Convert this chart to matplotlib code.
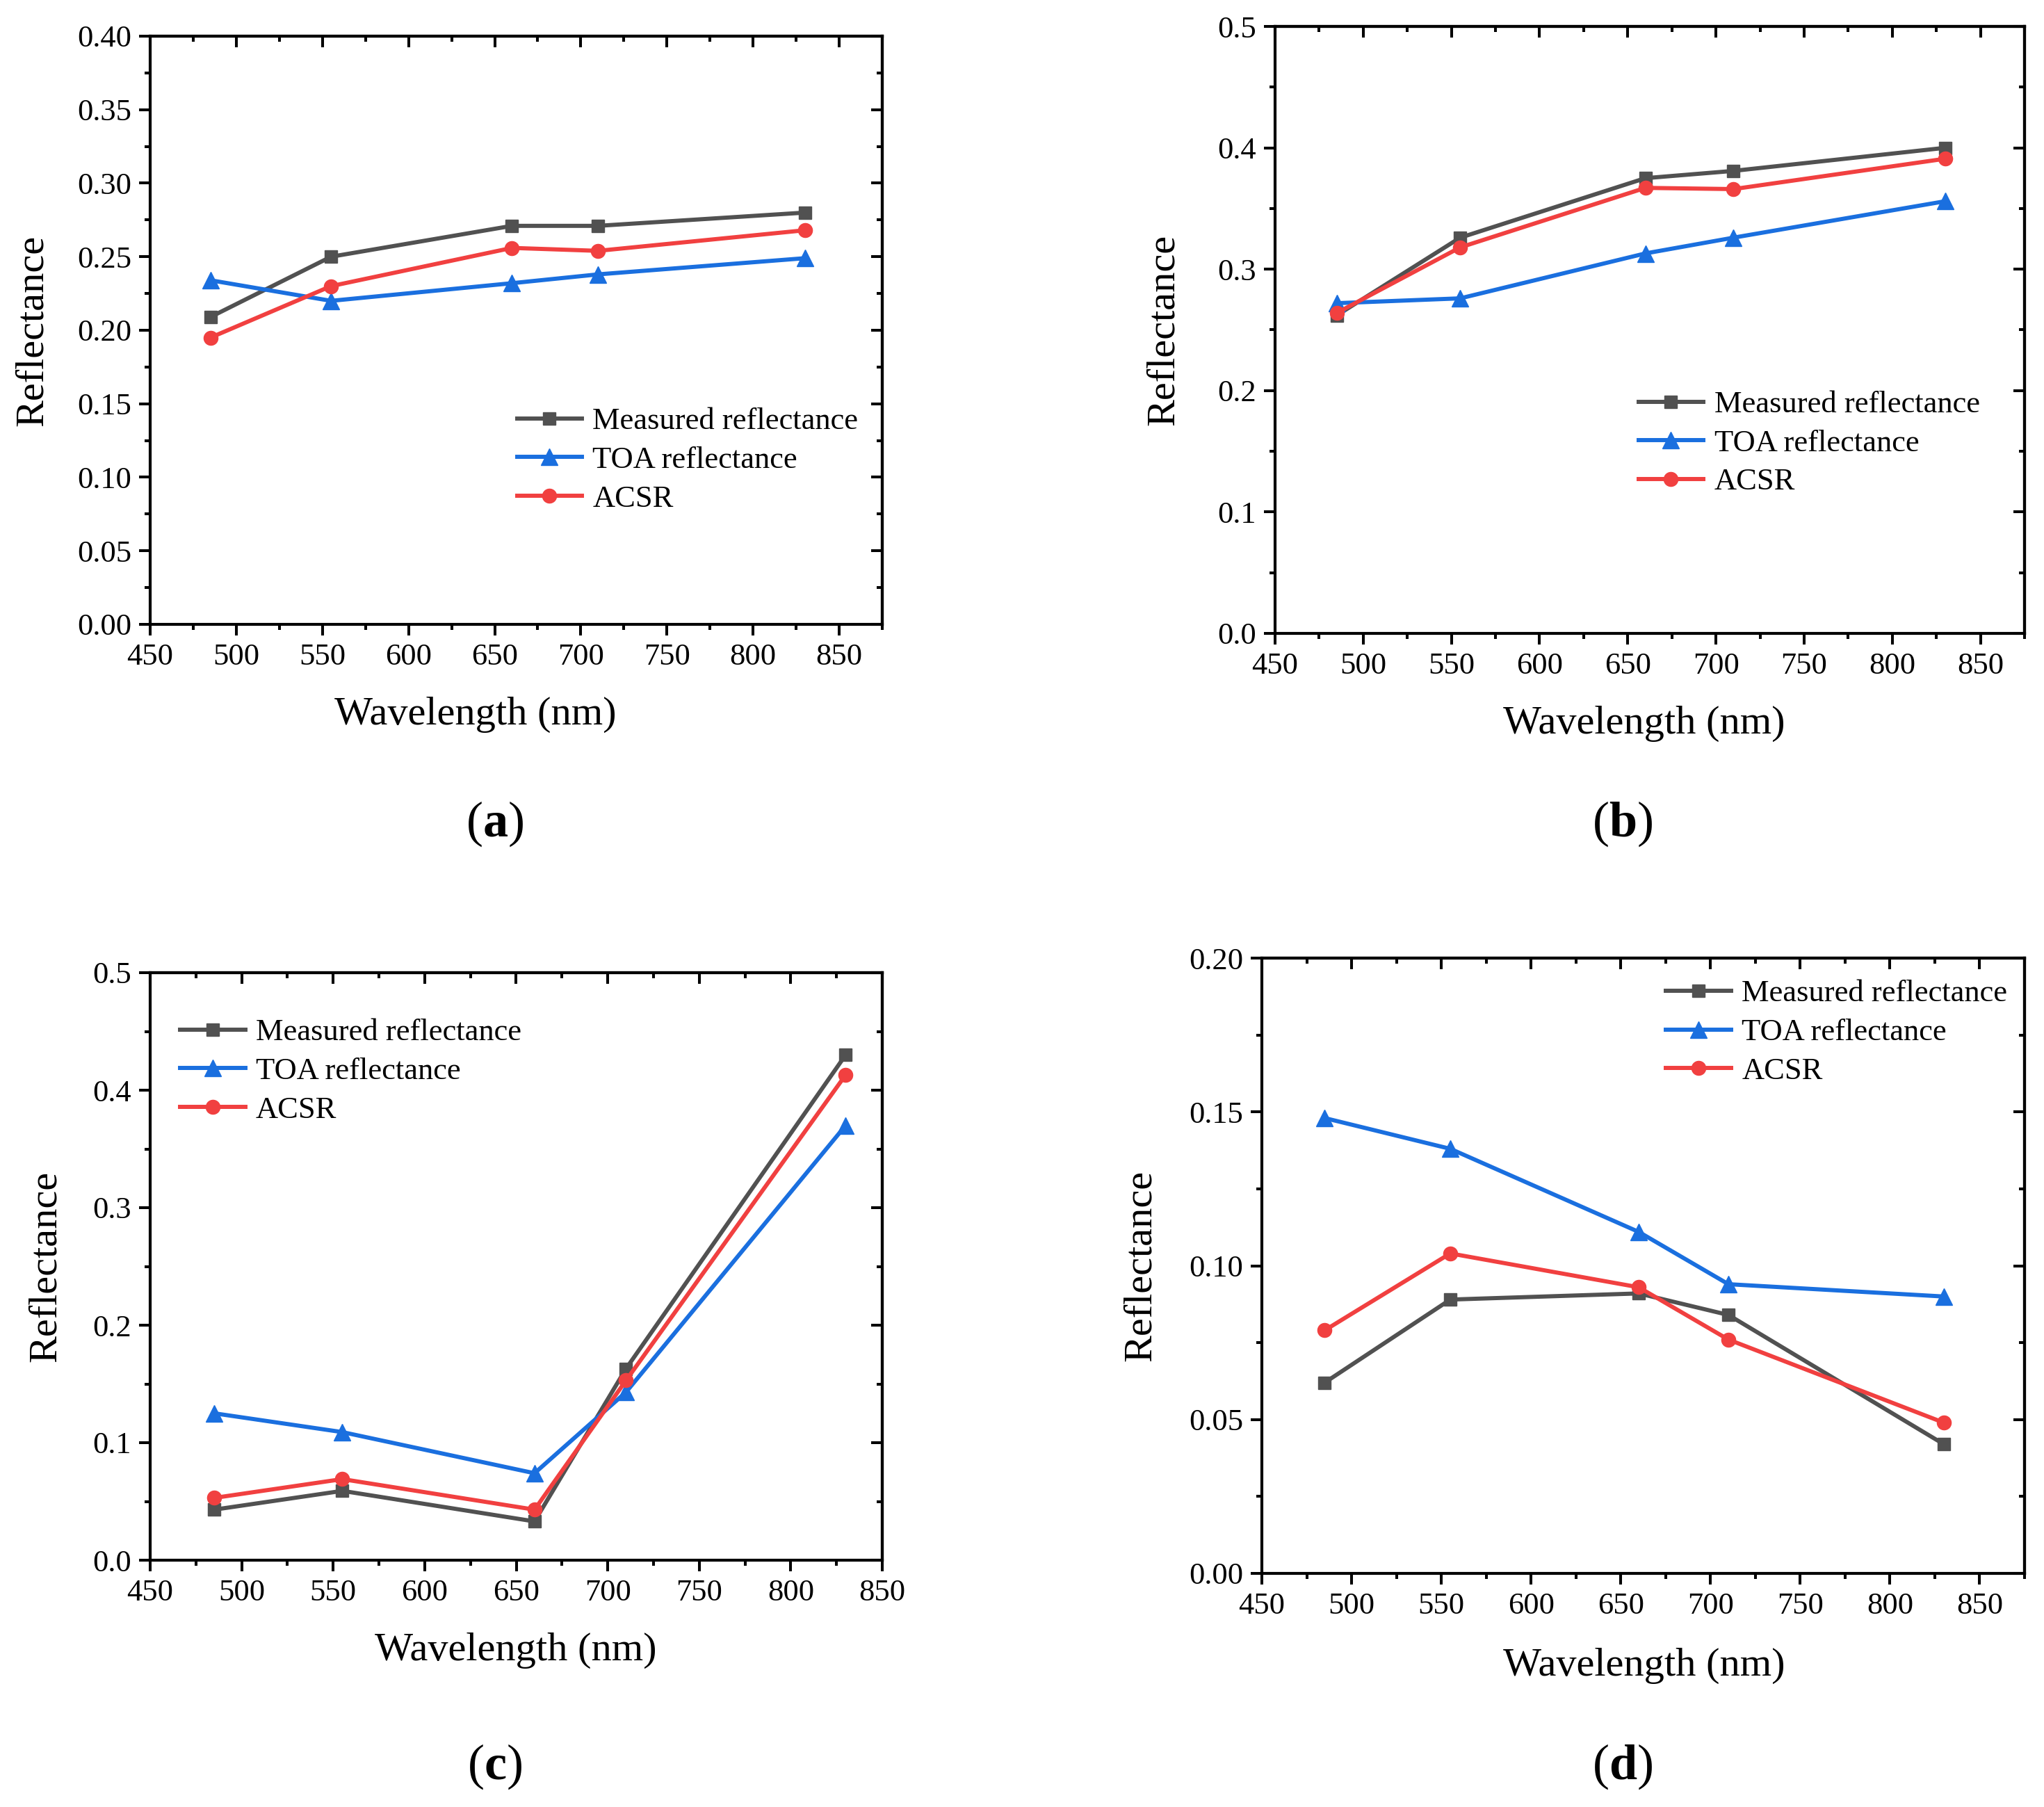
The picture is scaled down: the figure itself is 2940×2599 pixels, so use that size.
import matplotlib
matplotlib.use("Agg")
import matplotlib.pyplot as plt
from matplotlib.ticker import MultipleLocator, NullFormatter, FormatStrFormatter

plt.rcParams['font.family'] = ['Liberation Serif', 'DejaVu Serif']
plt.rcParams['mathtext.fontset'] = 'custom'
plt.rcParams['mathtext.rm'] = 'Liberation Serif'
plt.rcParams['mathtext.bf'] = 'Liberation Serif:bold'

# Longueurs d'onde des bandes (nm)
wavelength = [485, 555, 660, 710, 830]

# (a)
measured_a = [0.209, 0.250, 0.271, 0.271, 0.280]
toa_a = [0.234, 0.220, 0.232, 0.238, 0.249]
acsr_a = [0.195, 0.230, 0.256, 0.254, 0.268]

# (b)
measured_b = [0.262, 0.326, 0.375, 0.381, 0.400]
toa_b = [0.272, 0.276, 0.313, 0.326, 0.356]
acsr_b = [0.264, 0.318, 0.367, 0.366, 0.391]

# (c)
measured_c = [0.043, 0.059, 0.033, 0.163, 0.430]
toa_c = [0.125, 0.109, 0.074, 0.143, 0.370]
acsr_c = [0.053, 0.069, 0.043, 0.153, 0.413]

# (d)
measured_d = [0.062, 0.089, 0.091, 0.084, 0.042]
toa_d = [0.148, 0.138, 0.111, 0.094, 0.090]
acsr_d = [0.079, 0.104, 0.093, 0.076, 0.049]

series_labels = ['Measured reflectance', 'TOA reflectance', 'ACSR']
panel_names = ['a', 'b', 'c', 'd']

GRAY = '#515151'
BLUE = '#1A6FDF'
RED = '#F14040'

W, H = 2940, 2599
fig = plt.figure(figsize=(W / 100, H / 100), dpi=100)

# positions en pixels : gauche, droite, haut, bas
boxes = [(216, 1269, 52, 898), (1834, 2912, 38, 911),
         (216, 1269, 1399, 2244), (1815, 2912, 1378, 2263)]
ylims = [(0, 0.40), (0, 0.5), (0, 0.5), (0, 0.20)]
ysteps = [0.05, 0.1, 0.1, 0.05]
yfmts = ['%.2f', '%.1f', '%.1f', '%.2f']
xmax = [875, 875, 850, 875]
legend_anchor = [(0.501, 0.279), (0.485, 0.313), (0.041, 0.832), (0.530, 0.879)]
ylabel_x = [47, 1674, 66, 1641]
xlabel_xy = [(684, 1028), (2365, 1041), (742, 2374), (2365, 2396)]
letter_xy = [(712, 1185), (2334, 1185), (712, 2541), (2334, 2541)]

data = [(measured_a, toa_a, acsr_a), (measured_b, toa_b, acsr_b),
        (measured_c, toa_c, acsr_c), (measured_d, toa_d, acsr_d)]

TICK_W = 2.9
MAJ_L, MIN_L = 11.5, 6

for i in range(4):
    l, r, t, b = boxes[i]
    ax = fig.add_axes([l / W, 1 - b / H, (r - l) / W, (b - t) / H])
    meas, toa, acsr = data[i]
    ax.plot(wavelength, meas, 's-', color=GRAY, lw=4.3, ms=13.5, label=series_labels[0])
    ax.plot(wavelength, toa, '^-', color=BLUE, lw=4.3, ms=17, label=series_labels[1])
    ax.plot(wavelength, acsr, 'o-', color=RED, lw=4.3, ms=14.5, label=series_labels[2])

    ax.set_xlim(450, xmax[i])
    ax.set_ylim(*ylims[i])
    ax.xaxis.set_major_locator(MultipleLocator(50))
    ax.xaxis.set_minor_locator(MultipleLocator(25))
    ax.yaxis.set_major_locator(MultipleLocator(ysteps[i]))
    ax.yaxis.set_minor_locator(MultipleLocator(ysteps[i] / 2))
    ax.yaxis.set_major_formatter(FormatStrFormatter(yfmts[i]))
    ax.tick_params(which='major', direction='out', length=MAJ_L, width=TICK_W,
                   labelsize=32, pad=8)
    ax.tick_params(which='minor', direction='out', length=MIN_L, width=TICK_W)
    for sp in ax.spines.values():
        sp.set_linewidth(3.0)

    # graduations miroir vers l'intérieur (haut et droite)
    top = ax.secondary_xaxis('top')
    top.xaxis.set_major_locator(MultipleLocator(50))
    top.xaxis.set_minor_locator(MultipleLocator(25))
    top.xaxis.set_major_formatter(NullFormatter())
    top.tick_params(which='major', direction='in', length=MAJ_L, width=TICK_W)
    top.tick_params(which='minor', direction='in', length=MIN_L, width=TICK_W)
    top.spines['top'].set_linewidth(3.0)
    right = ax.secondary_yaxis('right')
    right.yaxis.set_major_locator(MultipleLocator(ysteps[i]))
    right.yaxis.set_minor_locator(MultipleLocator(ysteps[i] / 2))
    right.yaxis.set_major_formatter(NullFormatter())
    right.tick_params(which='major', direction='in', length=MAJ_L, width=TICK_W)
    right.tick_params(which='minor', direction='in', length=MIN_L, width=TICK_W)
    right.spines['right'].set_linewidth(3.0)

    ax.legend(loc='center left', bbox_to_anchor=legend_anchor[i], frameon=False,
              fontsize=32, handlelength=2.1, handletextpad=0.35, labelspacing=0.35,
              borderpad=0, borderaxespad=0)

    fig.text(ylabel_x[i] / W, 1 - (t + b) / 2 / H, 'Reflectance', rotation=90,
             ha='center', va='center', fontsize=42)
    fig.text(xlabel_xy[i][0] / W, 1 - xlabel_xy[i][1] / H, 'Wavelength (nm)',
             ha='center', va='center', fontsize=42)
    fig.text(letter_xy[i][0] / W, 1 - letter_xy[i][1] / H,
             r'($\mathbf{' + panel_names[i] + '}$)',
             ha='center', va='center', fontsize=52)

fig.savefig('out.png', dpi=100)
